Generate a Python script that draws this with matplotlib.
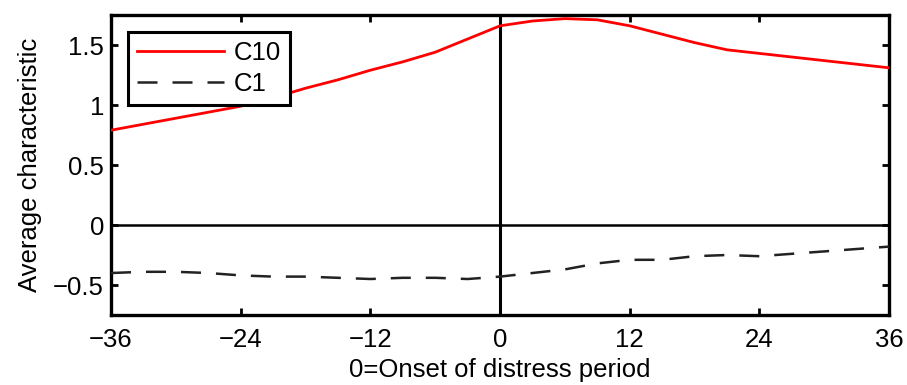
import matplotlib.pyplot as plt
from matplotlib.ticker import FuncFormatter

plt.rcParams['font.family'] = ['Liberation Sans', 'DejaVu Sans']

# months relative to onset of distress
months = [-36, -33, -30, -27, -24, -21, -18, -15, -12, -9, -6, -3, 0,
          3, 6, 9, 12, 15, 18, 21, 24, 27, 30, 33, 36]
c10 = [0.79, 0.84, 0.89, 0.94, 0.99, 1.06, 1.14, 1.21, 1.29, 1.36, 1.44, 1.55, 1.66,
       1.70, 1.72, 1.71, 1.66, 1.59, 1.52, 1.46, 1.43, 1.40, 1.37, 1.34, 1.31]
c1 = [-0.40, -0.39, -0.39, -0.40, -0.42, -0.43, -0.43, -0.44, -0.45, -0.44, -0.44, -0.45, -0.43,
      -0.40, -0.37, -0.32, -0.29, -0.29, -0.26, -0.25, -0.26, -0.24, -0.22, -0.20, -0.18]

xticks = [-36, -24, -12, 0, 12, 24, 36]
yticks = [-0.5, 0, 0.5, 1, 1.5]

fig = plt.figure(figsize=(9.07, 3.85), dpi=100)
ax = fig.add_axes([0.1224, 0.1818, 0.8578, 0.7792])

ax.axhline(0, color='black', lw=1.8, zorder=1)
ax.axvline(0, color='black', lw=2.2, zorder=1)
ax.plot(months, c10, color='red', lw=2.0, label='C10', zorder=3)
ax.plot(months, c1, color='#222222', lw=1.8, dashes=(8, 6), label='C1', zorder=3)

ax.set_xlim(-36, 36)
ax.set_ylim(-0.75, 1.75)
ax.set_xticks(xticks)
ax.set_yticks(yticks)
ax.yaxis.set_major_formatter(FuncFormatter(lambda v, p: f'{v:g}'.replace('-', '\u2212')))
ax.tick_params(direction='in', length=5, width=2, top=True, right=True,
               labelsize=18.5, colors='black')
ax.tick_params(axis='x', pad=9)
ax.tick_params(axis='y', pad=5)
for s in ax.spines.values():
    s.set_linewidth(2.4)

ax.set_xlabel('0=Onset of distress period', fontsize=18.5, labelpad=5)
ax.set_ylabel('Average characteristic', fontsize=18.5, labelpad=8)

leg = ax.legend(loc='upper left', bbox_to_anchor=(0.022, 0.943), borderaxespad=0,
                fontsize=18.5, frameon=True, fancybox=False, edgecolor='black',
                framealpha=1, handlelength=3.4, handletextpad=0.35,
                borderpad=0.35, labelspacing=0.25)
leg.get_frame().set_linewidth(2.2)

fig.savefig('out.png', dpi=100)
